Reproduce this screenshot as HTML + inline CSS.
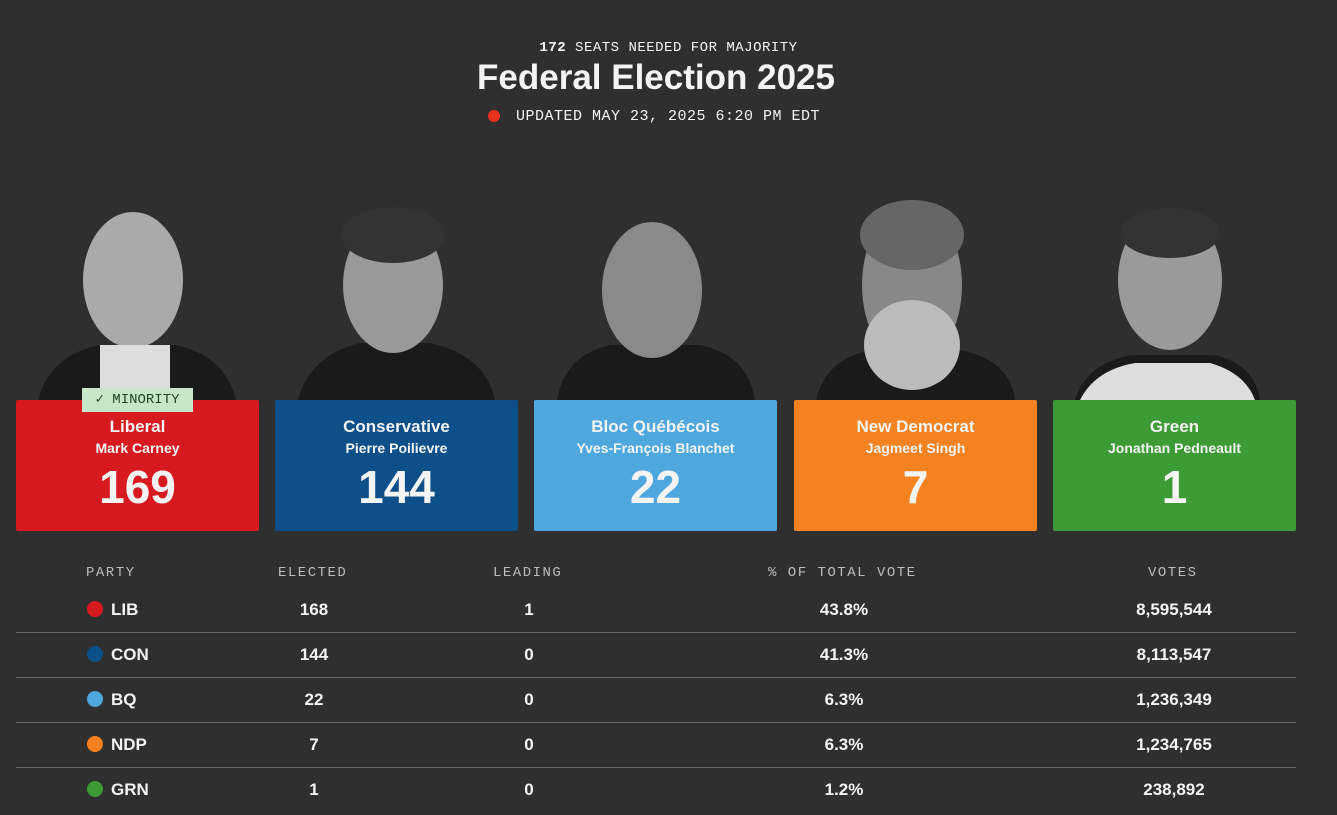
<!DOCTYPE html>
<html><head><style>
body{margin:0;width:1337px;height:815px;background:#2f2f2f;overflow:hidden;font-family:"Liberation Sans",sans-serif;color:#f4f4f4;position:relative}
.abs{position:absolute}
.mono{font-family:"Liberation Mono",monospace}
.card{position:absolute;top:400px;height:131px;width:243px;text-align:center;border-radius:2px}
.card .p{margin-top:17px;font-weight:bold;font-size:17px}
.card .n{font-weight:bold;font-size:14px;margin-top:3px}
.card .s{font-weight:bold;font-size:46px;margin-top:4px;line-height:54px}
.th{position:absolute;top:565px;font-size:14px;color:#bbb;letter-spacing:1.5px}
.row{position:absolute;left:16px;width:1280px;height:45px;font-weight:bold;font-size:17px}
.row div{position:absolute;top:0;line-height:45px}
.line{position:absolute;left:16px;width:1280px;height:1px;background:#666}
.dot{width:16px;height:16px;border-radius:50%;top:14px!important}
</style></head><body>
<div class="abs mono" style="left:0;width:1337px;top:40px;text-align:center;font-size:14px;letter-spacing:0.5px"><b>172</b> SEATS NEEDED FOR MAJORITY</div>
<div class="abs" style="left:0;width:1312px;top:58px;text-align:center;font-size:35px;font-weight:bold">Federal Election 2025</div>
<div class="abs" style="left:488px;top:110px;width:12px;height:12px;border-radius:50%;background:#e8321c"></div>
<div class="abs mono" style="left:516px;top:108px;font-size:15px;letter-spacing:0.5px">UPDATED MAY 23, 2025 6:20 PM EDT</div>

<svg class="abs" style="left:0;top:195px" width="1337" height="206">
<g fill="#1a1a1a">
<path d="M38 205 Q50 160 100 150 L175 150 Q225 160 236 205Z"/>
<path d="M298 205 Q310 160 360 148 L430 148 Q485 160 495 205Z"/>
<path d="M557 205 Q565 160 610 150 L700 150 Q748 160 755 205Z"/>
<path d="M816 205 Q825 165 870 155 L960 155 Q1010 165 1015 205Z"/>
<path d="M1075 205 Q1085 170 1130 160 L1215 160 Q1255 170 1260 205Z"/></g>
<g fill="#c9c9c9"><path d="M1080 205 Q1095 175 1135 168 L1210 168 Q1245 178 1255 205Z" fill="#ddd"/>
<ellipse cx="133" cy="85" rx="50" ry="68" fill="#aaa"/>
<ellipse cx="393" cy="90" rx="50" ry="68" fill="#999"/>
<ellipse cx="652" cy="95" rx="50" ry="68" fill="#8a8a8a"/>
<ellipse cx="912" cy="90" rx="50" ry="80" fill="#888"/>
<ellipse cx="1170" cy="85" rx="52" ry="70" fill="#9a9a9a"/></g>
<rect x="100" y="150" width="70" height="55" fill="#ddd"/>
<ellipse cx="393" cy="40" rx="52" ry="28" fill="#333"/>
<ellipse cx="912" cy="40" rx="52" ry="35" fill="#666"/>
<ellipse cx="912" cy="150" rx="48" ry="45" fill="#bbb"/>
<ellipse cx="1170" cy="38" rx="50" ry="25" fill="#333"/>
</svg>

<div class="card" style="left:16px;background:#d71920"><div class="p">Liberal</div><div class="n">Mark Carney</div><div class="s">169</div></div>
<div class="abs mono" style="left:82px;top:388px;width:111px;height:24px;background:#c8e6c9;color:#1e4620;font-size:14px;line-height:24px;text-align:center">✓ MINORITY</div>
<div class="card" style="left:275px;background:#0c4f89"><div class="p">Conservative</div><div class="n">Pierre Poilievre</div><div class="s">144</div></div>
<div class="card" style="left:534px;background:#4ea8de"><div class="p">Bloc Québécois</div><div class="n">Yves-François Blanchet</div><div class="s">22</div></div>
<div class="card" style="left:794px;background:#f58220"><div class="p">New Democrat</div><div class="n">Jagmeet Singh</div><div class="s">7</div></div>
<div class="card" style="left:1053px;background:#3d9b35"><div class="p">Green</div><div class="n">Jonathan Pedneault</div><div class="s">1</div></div>

<div class="th mono" style="left:86px">PARTY</div>
<div class="th mono" style="left:278px">ELECTED</div>
<div class="th mono" style="left:493px">LEADING</div>
<div class="th mono" style="left:768px">% OF TOTAL VOTE</div>
<div class="th mono" style="left:1148px">VOTES</div>

<div class="row" style="top:587px"><div class="dot" style="left:71px;background:#d71920"></div><div style="left:95px">LIB</div><div style="left:270px;width:56px;text-align:center">168</div><div style="left:485px;width:56px;text-align:center">1</div><div style="left:778px;width:100px;text-align:center">43.8%</div><div style="left:1098px;width:120px;text-align:center">8,595,544</div></div>
<div class="line" style="top:632px"></div>
<div class="row" style="top:632px"><div class="dot" style="left:71px;background:#0c4f89"></div><div style="left:95px">CON</div><div style="left:270px;width:56px;text-align:center">144</div><div style="left:485px;width:56px;text-align:center">0</div><div style="left:778px;width:100px;text-align:center">41.3%</div><div style="left:1098px;width:120px;text-align:center">8,113,547</div></div>
<div class="line" style="top:677px"></div>
<div class="row" style="top:677px"><div class="dot" style="left:71px;background:#4ea8de"></div><div style="left:95px">BQ</div><div style="left:270px;width:56px;text-align:center">22</div><div style="left:485px;width:56px;text-align:center">0</div><div style="left:778px;width:100px;text-align:center">6.3%</div><div style="left:1098px;width:120px;text-align:center">1,236,349</div></div>
<div class="line" style="top:722px"></div>
<div class="row" style="top:722px"><div class="dot" style="left:71px;background:#f58220"></div><div style="left:95px">NDP</div><div style="left:270px;width:56px;text-align:center">7</div><div style="left:485px;width:56px;text-align:center">0</div><div style="left:778px;width:100px;text-align:center">6.3%</div><div style="left:1098px;width:120px;text-align:center">1,234,765</div></div>
<div class="line" style="top:767px"></div>
<div class="row" style="top:767px"><div class="dot" style="left:71px;background:#3d9b35"></div><div style="left:95px">GRN</div><div style="left:270px;width:56px;text-align:center">1</div><div style="left:485px;width:56px;text-align:center">0</div><div style="left:778px;width:100px;text-align:center">1.2%</div><div style="left:1098px;width:120px;text-align:center">238,892</div></div>
</body></html>
